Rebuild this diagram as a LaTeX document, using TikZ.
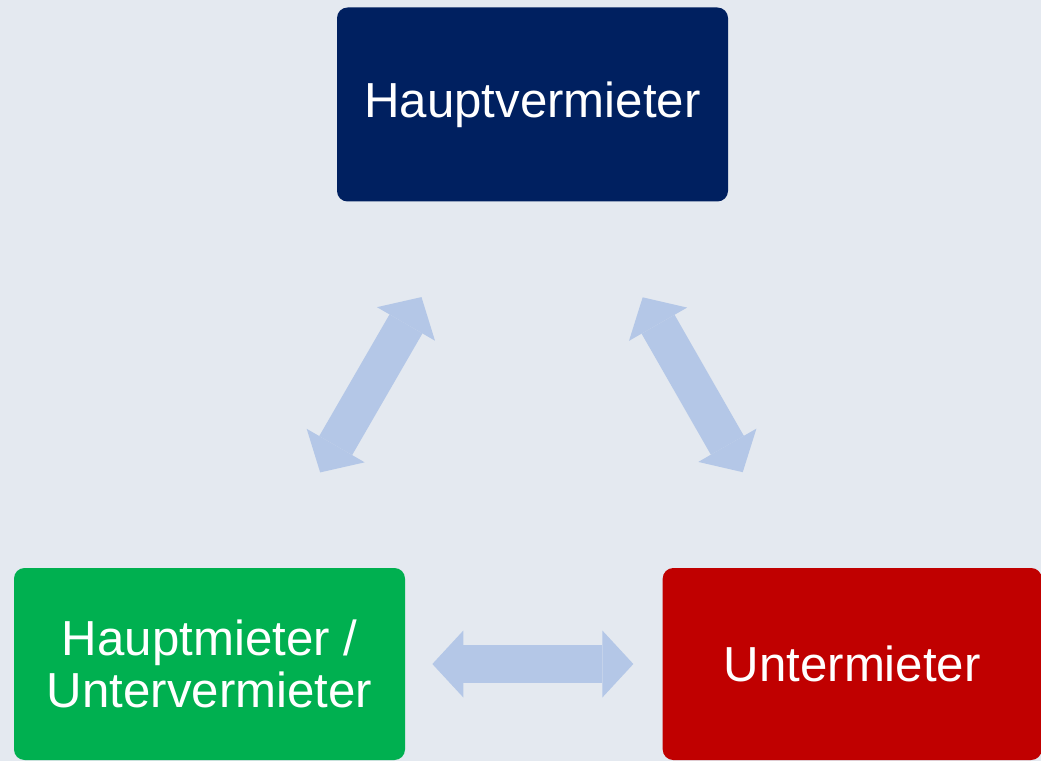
\documentclass[tikz,border=0pt]{standalone}
\usepackage{fontspec}
\setmainfont{Liberation Sans}
\usepackage{tikz}
\usetikzlibrary{positioning, arrows.meta}
\usepackage{xcolor}
\definecolor{bgcol}{RGB}{228, 233, 240}
\definecolor{navy}{RGB}{0, 32, 96}
\definecolor{mgreen}{RGB}{0, 176, 80}
\definecolor{mred}{RGB}{192, 0, 0}
\definecolor{flow}{RGB}{180, 199, 231}

\begin{document}
\begin{tikzpicture}[
  every node/.style={font=\fontsize{28}{30}\selectfont, text=white},
  party/.style={
    rounded corners=6pt, inner sep=0pt,
    minimum width=7.82cm, minimum height=3.88cm,
    align=center,
  },
  fat/.style={
    draw=flow, line width=0.76cm,
    {Triangle[length=0.62cm, width=1.34cm, line width=0pt]}-{Triangle[length=0.62cm, width=1.34cm, line width=0pt]},
  },
]
  \fill[bgcol] (0,0) rectangle (20.82,-15.22);
  \useasboundingbox (0,0) rectangle (20.82,-15.22);

  \node[party, fill=navy]                    (haupt) at (10.65,-2.09) {Hauptvermieter};
  \node[party, fill=mgreen, minimum height=3.84cm] (zwischen) at (4.19,-13.28) {Hauptmieter /\\Untervermieter};
  \node[party, fill=mred, minimum width=7.58cm, minimum height=3.84cm,
        right=5.14cm of zwischen]            (unter) {Untermieter};

  \draw[fat, shorten <=2.2cm, shorten >=2.2cm] (zwischen) -- (haupt);
  \draw[fat, shorten <=2.2cm, shorten >=2.2cm] (haupt) -- (unter);
  \draw[fat, shorten <=0.54cm, shorten >=0.58cm] (zwischen) -- (unter);
\end{tikzpicture}
\end{document}
